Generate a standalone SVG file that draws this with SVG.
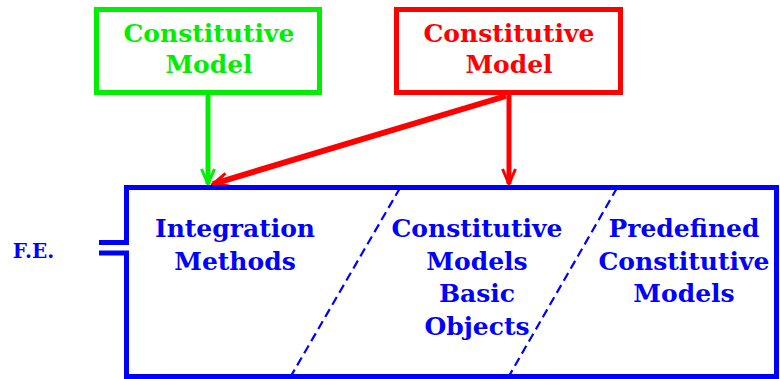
<svg xmlns="http://www.w3.org/2000/svg" width="780" height="379" viewBox="0 0 780 379">
<style>
.t{font-family:"DejaVu Serif","Liberation Serif",serif;font-weight:bold;font-size:25px;text-anchor:middle}
.g{fill:#00ee00}.r{fill:#ff0000}.b{fill:#0000ff}
.box{fill:none;stroke-width:5}
.dash{stroke:#0000ff;stroke-width:2.2;stroke-dasharray:9,5}
</style>
<defs>
<marker id="ag" markerUnits="userSpaceOnUse" viewBox="0 0 18 16" markerWidth="18" markerHeight="16" refX="16" refY="8" orient="auto">
<path d="M1,1.5 L16,8 L1,14.5" fill="none" stroke="#00ee00" stroke-width="3"/>
</marker>
<marker id="ar" markerUnits="userSpaceOnUse" viewBox="0 0 18 16" markerWidth="18" markerHeight="16" refX="16" refY="8" orient="auto">
<path d="M1,1.5 L16,8 L1,14.5" fill="none" stroke="#ff0000" stroke-width="3"/>
</marker>
</defs>
<g id="connectors">
<line x1="208" y1="95" x2="208" y2="184" stroke="#00ee00" stroke-width="5" marker-end="url(#ag)"/>
<line x1="509" y1="95" x2="509" y2="184" stroke="#ff0000" stroke-width="5" marker-end="url(#ar)"/>
<line x1="506" y1="96" x2="213" y2="184" stroke="#ff0000" stroke-width="6" marker-end="url(#ar)"/>
</g>
<g id="green-model">
<rect class="box" x="96.5" y="9.5" width="223" height="83" stroke="#00ee00"/>
<text class="t g" x="209" y="42">Constitutive</text>
<text class="t g" x="209" y="73">Model</text>
</g>
<g id="red-model">
<rect class="box" x="396.5" y="9.5" width="224" height="83" stroke="#ff0000"/>
<text class="t r" x="509" y="42">Constitutive</text>
<text class="t r" x="509" y="73">Model</text>
</g>
<g id="fe">
<path d="M99,242.5 H126.5 V187.5 H776.5 V376.5 H126.5 V253 H99" fill="none" stroke="#0000ff" stroke-width="5"/>
<line class="dash" x1="400" y1="188" x2="291" y2="376"/>
<line class="dash" x1="617" y1="188" x2="509" y2="376"/>
<text class="t b" x="33.5" y="258" style="font-size:20px">F.E.</text>
<text class="t b" x="235" y="237">Integration</text>
<text class="t b" x="235" y="270">Methods</text>
<text class="t b" x="477" y="237">Constitutive</text>
<text class="t b" x="477" y="270">Models</text>
<text class="t b" x="477" y="302">Basic</text>
<text class="t b" x="477" y="335">Objects</text>
<text class="t b" x="684" y="237">Predefined</text>
<text class="t b" x="684" y="270">Constitutive</text>
<text class="t b" x="684" y="302">Models</text>
</g>
</svg>
